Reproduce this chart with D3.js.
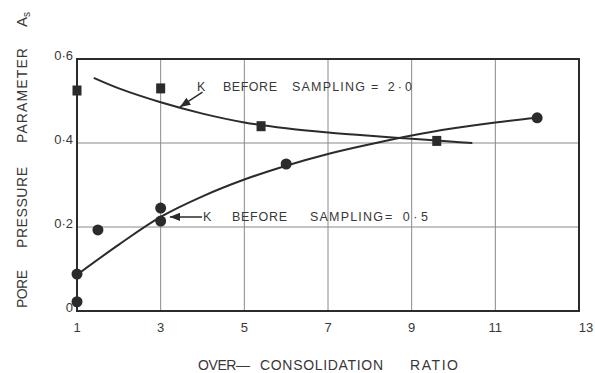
<!DOCTYPE html>
<html lang="en">
<head>
<meta charset="UTF-8">
<title>Pore pressure parameter vs over-consolidation ratio</title>
<script src="https://d3js.org/d3.v7.min.js"></script>
<style>
	body { margin: 0; background: #fff; }
	text { font-family: "Liberation Sans", Arial, sans-serif; fill: #383838; }
</style>
</head>
<body>
<svg id="chart" width="595" height="373"></svg>
<script>
// tick values
const xTicks = [1, 3, 5, 7, 9, 11, 13];
const yTicks = [0, 0.2, 0.4, 0.6];
const yTickLabels = ["0", "0·2", "0·4", "0·6"];

// K before sampling = 2.0 (squares)
const sqOCR = [1, 3, 5.4, 9.6];
const sqA = [0.525, 0.53, 0.44, 0.405];
// K before sampling = 0.5 (circles)
const ciOCR = [1, 1, 1.5, 3, 3, 6, 12];
const ciA = [0.022, 0.088, 0.193, 0.245, 0.214, 0.35, 0.46];

// fitted curves
const hiOCR = [1.4, 2, 3, 4, 5, 6, 7, 8, 9, 10, 10.45];
const hiA = [0.555, 0.53, 0.497, 0.47, 0.449, 0.435, 0.425, 0.417, 0.41, 0.403, 0.4];
const loOCR = [1.05, 2, 3, 4, 5, 6, 7, 8, 9, 10, 11, 12];
const loA = [0.09, 0.158, 0.224, 0.273, 0.313, 0.346, 0.374, 0.397, 0.418, 0.435, 0.449, 0.46];

const svg = d3.select("#chart");
const x = d3.scaleLinear().domain([1, 13]).range([77, 579]);
const y = d3.scaleLinear().domain([0, 0.6]).range([311, 59]);

// grid
svg.append("g").selectAll("line").data(xTicks.slice(1, -1)).join("line")
	.attr("x1", d => x(d)).attr("x2", d => x(d))
	.attr("y1", y(0.6)).attr("y2", y(0))
	.attr("stroke", "#8a8a8a").attr("stroke-width", 1);
svg.append("g").selectAll("line").data(yTicks.slice(1, -1)).join("line")
	.attr("x1", x(1)).attr("x2", x(13))
	.attr("y1", d => y(d)).attr("y2", d => y(d))
	.attr("stroke", "#8a8a8a").attr("stroke-width", 1);

// frame
svg.append("rect")
	.attr("x", x(1)).attr("y", y(0.6))
	.attr("width", x(13) - x(1)).attr("height", y(0) - y(0.6))
	.attr("fill", "none").attr("stroke", "#2b2b2b").attr("stroke-width", 2);

// tick labels
svg.append("g").selectAll("text").data(xTicks).join("text")
	.attr("x", d => x(d) + (d === 13 ? 7 : 0)).attr("y", 332)
	.attr("text-anchor", "middle").attr("font-size", 13)
	.text(d => d);
svg.append("g").selectAll("text").data(yTicks).join("text")
	.attr("x", 73).attr("y", d => y(d) + 1)
	.attr("text-anchor", "end").attr("font-size", 13)
	.text((d, i) => yTickLabels[i]);

// curves
const line = d3.line().x(d => x(d[0])).y(d => y(d[1])).curve(d3.curveCatmullRom);
svg.append("path").datum(d3.zip(hiOCR, hiA)).attr("d", line)
	.attr("fill", "none").attr("stroke", "#2b2b2b").attr("stroke-width", 2);
svg.append("path").datum(d3.zip(loOCR, loA)).attr("d", line)
	.attr("fill", "none").attr("stroke", "#2b2b2b").attr("stroke-width", 2);

// markers
svg.append("g").selectAll("rect").data(d3.zip(sqOCR, sqA)).join("rect")
	.attr("x", d => x(d[0]) - 4.5).attr("y", d => y(d[1]) - 5)
	.attr("width", 9).attr("height", 10)
	.attr("fill", "#2b2b2b");
svg.append("g").selectAll("circle").data(d3.zip(ciOCR, ciA)).join("circle")
	.attr("cx", d => x(d[0])).attr("cy", d => y(d[1])).attr("r", 5.5)
	.attr("fill", "#2b2b2b");

// annotations
svg.append("defs").append("marker")
	.attr("id", "arr").attr("viewBox", "0 0 10 10").attr("refX", 10).attr("refY", 5)
	.attr("markerWidth", 7).attr("markerHeight", 7).attr("orient", "auto")
	.append("path").attr("d", "M0,1 L10,5 L0,9 Z").attr("fill", "#2b2b2b");
svg.append("line")
	.attr("x1", x(4.0)).attr("y1", y(0.521)).attr("x2", x(3.46)).attr("y2", y(0.486))
	.attr("stroke", "#2b2b2b").attr("stroke-width", 1.5).attr("marker-end", "url(#arr)");
svg.append("line")
	.attr("x1", x(3.99)).attr("y1", y(0.224)).attr("x2", x(3.22)).attr("y2", y(0.224))
	.attr("stroke", "#2b2b2b").attr("stroke-width", 1.5).attr("marker-end", "url(#arr)");

function words(list, yPos, size) {
	list.forEach(w => {
		svg.append("text").attr("x", w[1]).attr("y", yPos)
			.attr("font-size", size)
			.attr("textLength", w[2]).attr("lengthAdjust", "spacing")
			.text(w[0]);
	});
}
words([["K", 197, 8], ["BEFORE", 223, 54], ["SAMPLING", 292, 73], ["= 2·0", 371, 41]], 91, 12.5);
words([["K", 203, 9], ["BEFORE", 232, 55], ["SAMPLING", 310, 73], ["= 0·5", 385, 43]], 221, 12.5);
words([["OVER—", 198, 52], ["CONSOLIDATION", 260, 123], ["RATIO", 410, 48]], 370, 14);

// y title (rotated)
const yt = svg.append("g").attr("transform", "translate(27,0) rotate(-90)");
[["PORE", -308, 38], ["PRESSURE", -248, 81], ["PARAMETER", -143, 95]].forEach(w => {
	yt.append("text").attr("x", w[1]).attr("y", 0).attr("font-size", 14)
		.attr("textLength", w[2]).attr("lengthAdjust", "spacing").text(w[0]);
});
const as = yt.append("text").attr("x", -27).attr("y", 0).attr("font-size", 15);
as.append("tspan").text("A");
as.append("tspan").attr("font-size", 10).attr("dy", 3).text("s");
</script>
</body>
</html>
